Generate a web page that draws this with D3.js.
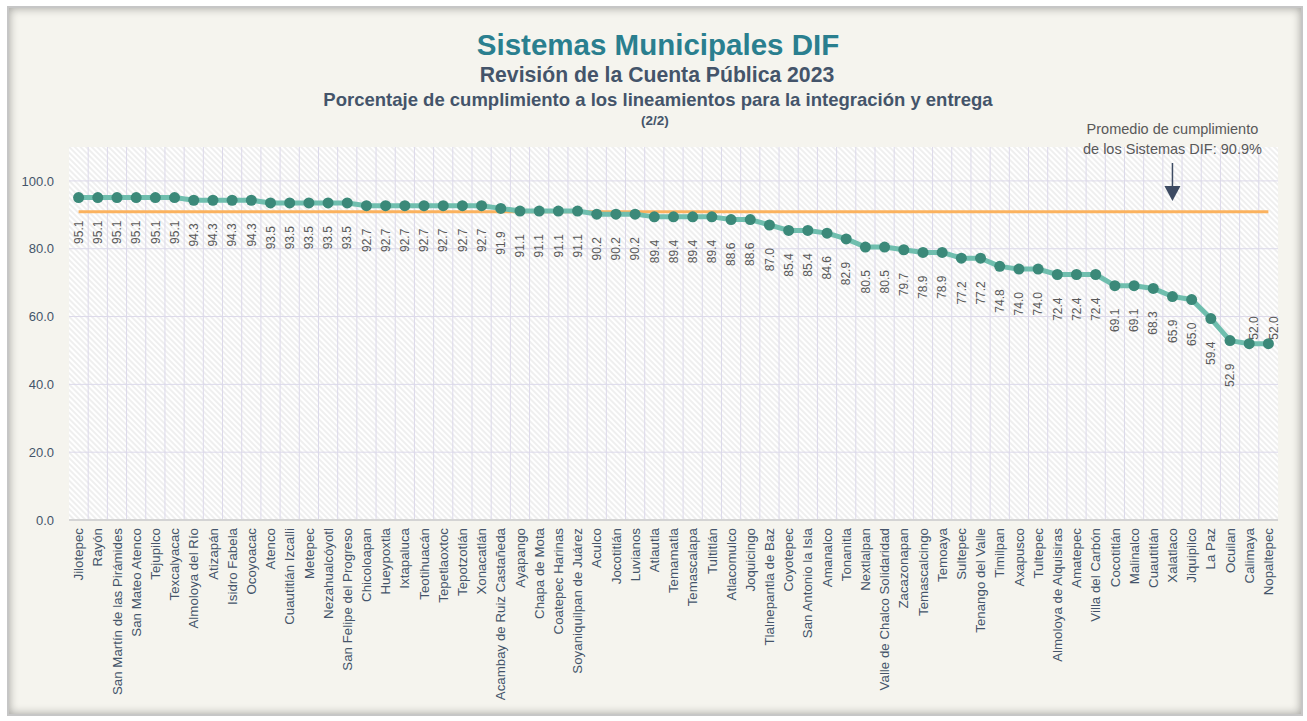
<!DOCTYPE html>
<html>
<head>
<meta charset="utf-8">
<script src="https://cdn.jsdelivr.net/npm/d3@7"></script>
<style>
  body { margin: 0; background: #ffffff; font-family: "Liberation Sans", Arial, sans-serif; }
  #frame {
    position: absolute; left: 7px; top: 6px; width: 1296px; height: 710px;
    box-sizing: border-box; border: 2px solid #c6c6c6; background: #f5f4ee;
    box-shadow: inset 0 0 10px rgba(0,0,0,0.35);
  }
  #chart { position: absolute; left: 0; top: 0; }
</style>
</head>
<body>
<div id="frame"></div>
<svg id="chart"></svg>
<script>
// Chart size
const width = 1307, height = 721;

// Municipios (in order) and their % of compliance
const categories = [
  "Jilotepec", "Rayón", "San Martín de las Pirámides", "San Mateo Atenco", "Tejupilco",
  "Texcalyacac", "Almoloya del Río", "Atizapán", "Isidro Fabela", "Ocoyoacac",
  "Atenco", "Cuautitlán Izcalli", "Metepec", "Nezahualcóyotl", "San Felipe del Progreso",
  "Chicoloapan", "Hueypoxtla", "Ixtapaluca", "Teotihuacán", "Tepetlaoxtoc",
  "Tepotzotlán", "Xonacatlán", "Acambay de Ruiz Castañeda", "Ayapango", "Chapa de Mota",
  "Coatepec Harinas", "Soyaniquilpan de Juárez", "Aculco", "Jocotitlán", "Luvianos",
  "Atlautla", "Temamatla", "Temascalapa", "Tultitlán", "Atlacomulco",
  "Joquicingo", "Tlalnepantla de Baz", "Coyotepec", "San Antonio la Isla", "Amanalco",
  "Tonanitla", "Nextlalpan", "Valle de Chalco Solidaridad", "Zacazonapan", "Temascalcingo",
  "Temoaya", "Sultepec", "Tenango del Valle", "Timilpan", "Axapusco",
  "Tultepec", "Almoloya de Alquisiras", "Amatepec", "Villa del Carbón", "Cocotitlán",
  "Malinalco", "Cuautitlán", "Xalatlaco", "Jiquipilco", "La Paz",
  "Ocuilan", "Calimaya", "Nopaltepec"
];
const values = [
  95.1, 95.1, 95.1, 95.1, 95.1,
  95.1, 94.3, 94.3, 94.3, 94.3,
  93.5, 93.5, 93.5, 93.5, 93.5,
  92.7, 92.7, 92.7, 92.7, 92.7,
  92.7, 92.7, 91.9, 91.1, 91.1,
  91.1, 91.1, 90.2, 90.2, 90.2,
  89.4, 89.4, 89.4, 89.4, 88.6,
  88.6, 87.0, 85.4, 85.4, 84.6,
  82.9, 80.5, 80.5, 79.7, 78.9,
  78.9, 77.2, 77.2, 74.8, 74.0,
  74.0, 72.4, 72.4, 72.4, 69.1,
  69.1, 68.3, 65.9, 65.0, 59.4,
  52.9, 52.0, 52.0
];
const yTicks = [0, 20, 40, 60, 80, 100];
const average = 90.9;
const averageNote = ["Promedio de cumplimiento", "de los Sistemas DIF: 90.9%"];
const noteAt = "Xalatlaco";

const svg = d3.select("#chart").attr("width", width).attr("height", height);

// Plot area
const plotLeft = 69, plotRight = 1278, plotTop = 147, plotBottom = 520;

const x = d3.scaleBand().domain(categories).range([plotLeft, plotRight]).padding(0);
const y = d3.scaleLinear().domain([0, 110]).range([plotBottom, plotTop]);
const cx = d => x(d) + x.bandwidth() / 2;

// hatch pattern for the plot background
const defs = svg.append("defs");
const pat = defs.append("pattern")
  .attr("id", "hatch")
  .attr("patternUnits", "userSpaceOnUse")
  .attr("width", 4).attr("height", 4)
  .attr("patternTransform", "rotate(-45)");
pat.append("rect").attr("width", 4).attr("height", 4).attr("fill", "#ffffff");
pat.append("line")
  .attr("x1", 1).attr("y1", 0).attr("x2", 1).attr("y2", 4)
  .attr("stroke", "#ebebeb").attr("stroke-width", 1.6);

svg.append("rect")
  .attr("x", plotLeft).attr("y", plotTop)
  .attr("width", plotRight - plotLeft).attr("height", plotBottom - plotTop)
  .attr("fill", "url(#hatch)");

// Grid lines
const grid = svg.append("g").attr("stroke", "#dcd9ea").attr("stroke-width", 1);
grid.selectAll("line.v")
  .data(categories.slice(1))
  .join("line")
  .attr("class", "v")
  .attr("x1", d => x(d)).attr("x2", d => x(d))
  .attr("y1", plotTop).attr("y2", plotBottom);
grid.selectAll("line.h")
  .data(yTicks.filter(t => t > 0))
  .join("line")
  .attr("class", "h")
  .attr("x1", plotLeft).attr("x2", plotRight)
  .attr("y1", d => y(d)).attr("y2", d => y(d));

// Base line
svg.append("line")
  .attr("x1", plotLeft).attr("x2", plotRight)
  .attr("y1", y(0)).attr("y2", y(0))
  .attr("stroke", "#d4d4d4").attr("stroke-width", 2);

// Y axis labels
const yAxis = svg.append("g")
  .attr("transform", `translate(${plotLeft - 12},0)`)
  .call(d3.axisLeft(y).tickValues(yTicks).tickSize(0).tickFormat(d3.format(".1f")));
yAxis.select(".domain").remove();
yAxis.selectAll("text")
  .attr("fill", "#44546a")
  .attr("font-size", 13)
  .attr("font-family", "Liberation Sans, Arial, sans-serif");

// X axis labels (rotated)
const xAxis = svg.append("g")
  .attr("transform", `translate(0,${plotBottom})`)
  .call(d3.axisBottom(x).tickSize(0));
xAxis.select(".domain").remove();
xAxis.selectAll("text")
  .attr("fill", "#44546a")
  .attr("font-size", 13.3)
  .attr("font-family", "Liberation Sans, Arial, sans-serif")
  .attr("text-anchor", "end")
  .attr("transform", "rotate(-90)")
  .attr("x", -8)
  .attr("y", 0)
  .attr("dy", "0.35em");

// Average line
svg.append("line")
  .attr("x1", cx(categories[0])).attr("x2", cx(categories[categories.length - 1]))
  .attr("y1", y(average)).attr("y2", y(average))
  .attr("stroke", "#fbb25e").attr("stroke-width", 3);

// Series line
const line = d3.line()
  .x((d, i) => cx(categories[i]))
  .y(d => y(d));

svg.append("path")
  .datum(values)
  .attr("d", line)
  .attr("fill", "none")
  .attr("stroke", "#6fbeae")
  .attr("stroke-width", 5)
  .attr("stroke-linejoin", "round");

svg.selectAll("circle.pt")
  .data(values)
  .join("circle")
  .attr("class", "pt")
  .attr("cx", (d, i) => cx(categories[i]))
  .attr("cy", d => y(d))
  .attr("r", 5.5)
  .attr("fill", "#3b8979");

// Data labels (below the point, the last two go above)
const n = values.length;
svg.selectAll("text.lbl")
  .data(values)
  .join("text")
  .attr("class", "lbl")
  .attr("font-size", 12)
  .attr("fill", "#595959")
  .attr("text-anchor", (d, i) => i >= n - 2 ? "start" : "end")
  .attr("transform", (d, i) => {
    const px = cx(categories[i]) + (i >= n - 2 ? 5 : 0);
    const py = i >= n - 2 ? y(d) - 4 : y(d) + 23;
    return `translate(${px},${py}) rotate(-90)`;
  })
  .attr("dy", "0.35em")
  .text(d => d.toFixed(1));

// Titles
const titles = svg.append("g").attr("text-anchor", "middle").attr("font-weight", "bold");
titles.append("text").attr("x", 658).attr("y", 55)
  .attr("font-size", 29.5).attr("fill", "#2a7f8f").text("Sistemas Municipales DIF");
titles.append("text").attr("x", 657).attr("y", 82)
  .attr("font-size", 21.2).attr("fill", "#44546a").text("Revisión de la Cuenta Pública 2023");
titles.append("text").attr("x", 658).attr("y", 106)
  .attr("font-size", 18.5).attr("fill", "#44546a")
  .text("Porcentaje de cumplimiento a los lineamientos para la integración y entrega");
titles.append("text").attr("x", 655).attr("y", 125)
  .attr("font-size", 13.5).attr("fill", "#44546a").text("(2/2)");

// Note about the average with an arrow
const nx = cx(noteAt);
svg.append("g")
  .attr("text-anchor", "middle")
  .attr("font-size", 14.5)
  .attr("fill", "#595959")
  .selectAll("text")
  .data(averageNote)
  .join("text")
  .attr("x", nx)
  .attr("y", (d, i) => 134 + i * 20)
  .text(d => d);

svg.append("line")
  .attr("x1", nx).attr("x2", nx)
  .attr("y1", 163).attr("y2", 188)
  .attr("stroke", "#3d4b63").attr("stroke-width", 1.5);
svg.append("path")
  .attr("d", `M${nx - 8},186 L${nx + 8},186 L${nx},201 Z`)
  .attr("fill", "#3d4b63");
</script>
</body>
</html>
